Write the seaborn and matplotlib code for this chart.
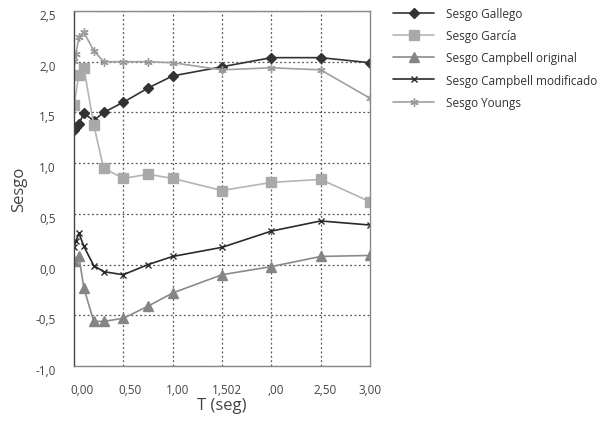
import numpy as np
import pandas as pd
import seaborn as sns
import matplotlib.pyplot as plt
import matplotlib.transforms as mtrans

## Data
t_full = [0, 0.02, 0.05, 0.1, 0.2, 0.3, 0.5, 0.75, 1.0, 1.5, 2.0, 2.5, 3.0]
t_short = [0, 0.05, 0.1, 0.2, 0.3, 0.5, 0.75, 1.0, 1.5, 2.0, 2.5, 3.0]

gallego = [1.33, 1.36, 1.39, 1.49, 1.42, 1.50, 1.60, 1.74, 1.86, 1.95, 2.04, 2.04, 1.99]
garcia = [1.57, 1.87, 1.94, 1.38, 0.95, 0.85, 0.89, 0.85, 0.73, 0.81, 0.84, 0.62]
campbell_orig = [0.04, 0.08, -0.23, -0.56, -0.56, -0.53, -0.41, -0.28, -0.10, -0.02, 0.08, 0.09]
campbell_mod = [0.17, 0.23, 0.31, 0.18, -0.01, -0.07, -0.10, 0.00, 0.08, 0.17, 0.33, 0.43, 0.39]
youngs = [2.01, 2.08, 2.24, 2.29, 2.11, 2.00, 2.00, 2.00, 1.99, 1.92, 1.94, 1.92, 1.64]

x_tick_labels = ["0,00", "0,50", "1,00", "1,502", ",00", "2,50", "3,00"]
y_ticks = [-1.0, -0.5, 0.0, 0.5, 1.0, 1.5, 2.0, 2.5]
y_tick_labels = ["-1,0", "-0,5", "0,0", "0,5", "1,0", "1,5", "2,0", "2,5"]

# label centres sit a bit right of the gridlines in the original
x_label_pos = [0.08, 0.57, 1.05, 1.55, 2.05, 2.54, 3.0]

sns.set_style("white")
plt.rcParams["font.family"] = ["Open Sans", "DejaVu Sans"]

fig = plt.figure(figsize=(6.02, 4.27), dpi=100)
ax = fig.add_axes([0.1229, 0.1405, 0.4917, 0.8314])

series = [
    ("Sesgo Gallego", t_full, gallego, "D", 5.5, "#333333", "#333333"),
    ("Sesgo García", t_short, garcia, "s", 7, "#b4b4b4", "#a9a9a9"),
    ("Sesgo Campbell original", t_short, campbell_orig, "^", 6.5, "#8a8a8a", "#858585"),
    ("Sesgo Campbell modificado", t_full, campbell_mod, "x", 4.5, "#2a2a2a", "#2a2a2a"),
    ("Sesgo Youngs", t_full, youngs, (6, 2, 0), 6, "#a0a0a0", "#9a9a9a"),
]

for name, t, vals, mk, ms, lc, mc in series:
    df = pd.DataFrame({"T": t, "Sesgo": vals})
    sns.lineplot(data=df, x="T", y="Sesgo", ax=ax, color=lc, label=name,
                 marker=mk, markersize=ms, markerfacecolor=mc, markeredgecolor=mc,
                 markeredgewidth=1.0, linewidth=1.2, sort=False)

ax.set_xlim(0, 3.0)
ax.set_ylim(-1.0, 2.5)

# gridlines on major ticks, labels on minor ticks
ax.set_xticks([0.5, 1.0, 1.5, 2.0, 2.5])
ax.set_xticklabels([])
ax.set_xticks(x_label_pos, minor=True)
ax.set_xticklabels(x_tick_labels, minor=True)
ax.tick_params(axis="x", which="major", direction="in", length=3, color="#444444")
ax.tick_params(axis="x", which="minor", length=0, pad=12, labelsize=8.5, labelcolor="#444444")

ax.set_yticks(y_ticks)
ax.set_yticklabels(y_tick_labels)
ax.tick_params(axis="y", length=0, pad=13, labelsize=8.5, labelcolor="#444444")
# y labels sit a few pixels under their gridlines in the original
shift = mtrans.ScaledTranslation(0, -3 / 100, fig.dpi_scale_trans)
for lab in ax.get_yticklabels():
    lab.set_transform(lab.get_transform() + shift)

ax.grid(True, which="major", linestyle=(0, (1.5, 2)), color="#555555", linewidth=0.9)

for side in ["top", "right", "bottom"]:
    ax.spines[side].set_color("#888888")
    ax.spines[side].set_linewidth(1.0)
ax.spines["left"].set_color("#444444")
ax.spines["left"].set_linewidth(1.0)

ax.set_xlabel("T (seg)", fontsize=12, color="#444444")
ax.set_ylabel("Sesgo", fontsize=12, color="#444444")
ax.xaxis.set_label_coords(0.5, -0.088)
ax.yaxis.set_label_coords(-0.16, 0.5)

ax.legend_.remove()
handles, labels = ax.get_legend_handles_labels()
fig.legend(handles, labels, loc="upper left", bbox_to_anchor=(393 / 602, 1 - 8 / 427),
           frameon=False, fontsize=8.5, handlelength=3.5, handletextpad=0.95,
           labelspacing=0.78, borderpad=0, borderaxespad=0, labelcolor="#333333")

fig.savefig("out.png", dpi=100)
